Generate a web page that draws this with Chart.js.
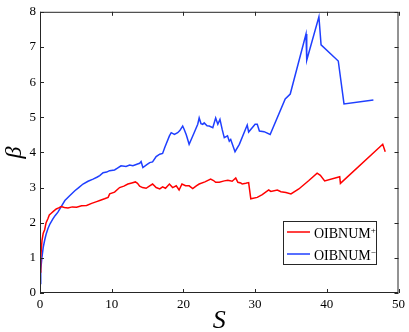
<!DOCTYPE html>
<html>
<head>
<meta charset="utf-8">
<script src="https://cdn.jsdelivr.net/npm/chart.js@4/dist/chart.umd.min.js"></script>
<style>
    html, body { margin: 0; padding: 0; background: #fff; }
    #wrap { width: 409px; height: 332px; position: relative; }
</style>
</head>
<body>
<div id="wrap"><canvas id="chart"></canvas></div>
<script>
// OIBNUM+ (red)
const sPlus = [0.02, 0.1, 0.28, 0.45, 0.65, 0.85, 1.1, 1.3, 1.57, 1.9, 2.27, 2.6, 2.96, 3.4, 3.9,
    4.5, 5.1, 5.8, 6.5, 7.2, 7.9, 8.33, 9.0, 9.5, 9.72, 10.4, 11.1, 11.7, 12.26, 12.8,
    13.3, 13.6, 13.9, 14.3, 14.8, 15.3, 15.7, 16.2, 16.7, 17.1, 17.5, 18.05, 18.5, 19.0, 19.4,
    19.8, 20.3, 20.8, 21.3, 21.8, 22.2, 23.0, 23.8, 24.2, 24.5, 25.0, 25.7, 26.2, 26.8, 27.3,
    27.6, 28.0, 28.2, 28.7, 29.1, 29.4, 30.3, 31.0, 31.9, 32.2, 33.1, 33.6, 34.3, 35.0, 36.1,
    37.5, 38.65, 39.1, 39.7, 41.8, 41.9, 47.8, 48.15];
const betaPlus = [0.6, 1.0, 1.5, 1.7, 1.8, 2.0, 2.11, 2.22, 2.27, 2.33, 2.39, 2.42, 2.46, 2.43, 2.42,
    2.45, 2.44, 2.48, 2.49, 2.55, 2.6, 2.63, 2.68, 2.72, 2.82, 2.87, 3.0, 3.04, 3.1, 3.13,
    3.16, 3.12, 3.04, 3.0, 2.98, 3.05, 3.1, 3.0, 2.96, 3.02, 2.98, 3.1, 3.0, 3.05, 2.93,
    3.1, 3.05, 3.05, 2.97, 3.05, 3.1, 3.16, 3.24, 3.2, 3.15, 3.15, 3.19, 3.21, 3.18, 3.27,
    3.15, 3.13, 3.1, 3.12, 3.14, 2.68, 2.72, 2.8, 2.93, 2.89, 2.93, 2.88, 2.86, 2.82, 2.96,
    3.2, 3.41, 3.35, 3.19, 3.31, 3.12, 4.23, 4.02];

// OIBNUM- (blue)
const sMinus = [0.03, 0.1, 0.28, 0.45, 0.65, 0.85, 1.1, 1.4, 1.8, 2.1, 2.5, 3.0, 3.47, 4.1, 4.86,
    5.4, 6.0, 6.7, 7.4, 8.0, 8.33, 8.8, 9.3, 9.7, 10.4, 10.8, 11.3, 12.0, 12.5, 12.96,
    13.6, 13.9, 14.1, 14.35, 14.9, 15.3, 15.7, 16.2, 16.7, 17.1, 17.4, 18.05, 18.3, 18.75, 19.2,
    19.5, 19.9, 20.1, 20.4, 20.8, 21.5, 22.0, 22.2, 22.45, 22.7, 22.9, 23.3, 23.6, 24.1, 24.5,
    24.8, 25.1, 25.4, 25.6, 25.7, 26.15, 26.4, 26.6, 27.2, 27.8, 28.9, 29.1, 30.0, 30.3, 30.6,
    31.25, 32.1, 34.2, 34.9, 37.1, 37.2, 38.9, 39.2, 41.6, 42.4, 46.5];
const betaMinus = [0.27, 0.65, 1.03, 1.3, 1.5, 1.67, 1.83, 1.97, 2.11, 2.2, 2.3, 2.47, 2.63, 2.76, 2.91,
    3.0, 3.1, 3.18, 3.24, 3.3, 3.34, 3.42, 3.44, 3.48, 3.5, 3.55, 3.62, 3.6, 3.64, 3.62,
    3.67, 3.69, 3.74, 3.57, 3.65, 3.71, 3.73, 3.88, 3.95, 3.97, 4.14, 4.47, 4.56, 4.51, 4.56,
    4.62, 4.75, 4.66, 4.5, 4.23, 4.56, 4.8, 4.98, 4.82, 4.8, 4.84, 4.76, 4.75, 4.7, 4.98,
    4.8, 4.94, 4.66, 4.5, 4.42, 4.47, 4.32, 4.37, 4.02, 4.23, 4.78, 4.58, 4.8, 4.8, 4.61,
    4.59, 4.51, 5.52, 5.66, 7.37, 6.62, 7.86, 7.06, 6.6, 5.38, 5.49];

const xTicks = [0, 10, 20, 30, 40, 50];
const yTicks = [0, 1, 2, 3, 4, 5, 6, 7, 8];

const seriesNames = ['OIBNUM', 'OIBNUM'];
const seriesSups = ['+', '\u2212'];
const seriesColors = ['#ff0000', '#1f3fff'];

const serif = '"Liberation Serif", "Times New Roman", serif';
const axisColor = '#262626';

function toPoints(xs, ys) {
    return xs.map((x, i) => ({ x: x, y: ys[i] }));
}

// box, inward ticks on all four sides, and the legend
const matlabAxes = {
    id: 'matlabAxes',
    afterDraw(chart) {
        const ctx = chart.ctx;
        const area = chart.chartArea;
        const xs = chart.scales.x;
        const ys = chart.scales.y;
        const tl = 4;

        ctx.save();
        ctx.strokeStyle = axisColor;
        ctx.lineWidth = 1;
        ctx.strokeRect(area.left + 0.5, area.top + 0.5, area.right - area.left - 1, area.bottom - area.top - 1);

        ctx.beginPath();
        xTicks.forEach(v => {
            const px = Math.round(xs.getPixelForValue(v)) + 0.5;
            ctx.moveTo(px, area.bottom);
            ctx.lineTo(px, area.bottom - tl);
            ctx.moveTo(px, area.top);
            ctx.lineTo(px, area.top + tl);
        });
        yTicks.forEach(v => {
            const py = Math.round(ys.getPixelForValue(v)) + 0.5;
            ctx.moveTo(area.left, py);
            ctx.lineTo(area.left + tl, py);
            ctx.moveTo(area.right, py);
            ctx.lineTo(area.right - tl, py);
        });
        ctx.stroke();

        // legend box in the lower right
        const bx = 283, by = 221, bw = 93, bh = 43;
        ctx.fillStyle = '#fff';
        ctx.fillRect(bx, by, bw, bh);
        ctx.strokeRect(bx + 0.5, by + 0.5, bw, bh);

        seriesNames.forEach((name, i) => {
            const y = by + 11 + i * 22;
            ctx.strokeStyle = seriesColors[i];
            ctx.lineWidth = 1.5;
            ctx.beginPath();
            ctx.moveTo(bx + 4, y);
            ctx.lineTo(bx + 27, y);
            ctx.stroke();

            ctx.fillStyle = '#000';
            ctx.textBaseline = 'alphabetic';
            ctx.font = '14px ' + serif;
            ctx.fillText(name, bx + 31, y + 6);
            const w = ctx.measureText(name).width;
            ctx.font = '9px ' + serif;
            ctx.fillText(seriesSups[i], bx + 31 + w, y + 1);
        });
        ctx.restore();
    }
};

new Chart(document.getElementById('chart'), {
    type: 'line',
    data: {
        datasets: [
            {
                label: seriesNames[0] + seriesSups[0],
                data: toPoints(sPlus, betaPlus),
                borderColor: seriesColors[0],
                borderWidth: 1.5,
                pointRadius: 0,
                tension: 0
            },
            {
                label: seriesNames[1] + seriesSups[1],
                data: toPoints(sMinus, betaMinus),
                borderColor: seriesColors[1],
                borderWidth: 1.5,
                pointRadius: 0,
                tension: 0
            }
        ]
    },
    options: {
        responsive: true,
        maintainAspectRatio: false,
        animation: false,
        layout: {
            padding: { top: 10, right: 9 }
        },
        scales: {
            x: {
                type: 'linear',
                min: 0,
                max: 50,
                afterFit: scale => { scale.height = 39; },
                afterBuildTicks: scale => { scale.ticks = xTicks.map(v => ({ value: v })); },
                grid: { display: false, drawTicks: false },
                border: { display: false },
                ticks: {
                    padding: 4,
                    color: '#000',
                    font: { family: serif, size: 13 }
                },
                title: {
                    display: true,
                    text: 'S',
                    color: '#000',
                    font: { family: serif, size: 26, style: 'italic', lineHeight: 1 },
                    padding: { top: 0, bottom: -2 }
                }
            },
            y: {
                min: 0,
                max: 8,
                afterFit: scale => { scale.width = 40; },
                afterBuildTicks: scale => { scale.ticks = yTicks.map(v => ({ value: v })); },
                grid: { display: false, drawTicks: false },
                border: { display: false },
                ticks: {
                    padding: 4,
                    color: '#000',
                    font: { family: serif, size: 13 }
                },
                title: {
                    display: true,
                    text: '\u03b2',
                    color: '#000',
                    font: { family: serif, size: 24, style: 'italic', lineHeight: 1 },
                    padding: { top: 3, bottom: 0 }
                }
            }
        },
        plugins: {
            legend: { display: false },
            tooltip: { enabled: false }
        }
    },
    plugins: [matlabAxes]
});
</script>
</body>
</html>
